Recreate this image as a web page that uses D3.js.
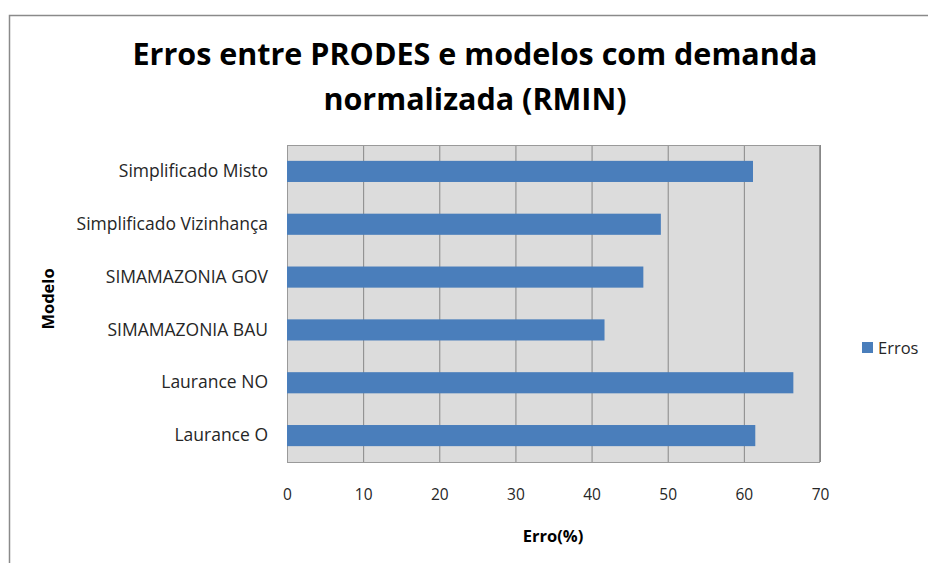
<!DOCTYPE html>
<html>
<head>
<meta charset="utf-8">
<script src="https://cdn.jsdelivr.net/npm/d3@7"></script>
<style>
  body { margin: 0; background: #fff; }
  text { font-family: "Open Sans", "Noto Sans", sans-serif; }
</style>
</head>
<body>
<svg width="928" height="563"></svg>
<script>
// categories listed top to bottom, as in the picture
var modelos = ["Simplificado Misto", "Simplificado Vizinhança", "SIMAMAZONIA GOV",
               "SIMAMAZONIA BAU", "Laurance NO", "Laurance O"];
var erros = [61.2, 49.1, 46.8, 41.7, 66.5, 61.5];
var xTicks = [0, 10, 20, 30, 40, 50, 60, 70];
var titleLines = ["Erros entre PRODES e modelos com demanda", "normalizada (RMIN)"];

var svgWidth = 928, svgHeight = 563;
var plot = { left: 287, right: 820, top: 145, bottom: 462 };

var svg = d3.select("svg")
  .attr("width", svgWidth)
  .attr("height", svgHeight);

// chart frame (right and bottom run off the page)
svg.append("rect")
  .attr("x", 9.5).attr("y", 15.5)
  .attr("width", 940).attr("height", 600)
  .attr("fill", "#fff")
  .attr("stroke", "#8a8a8a")
  .attr("stroke-width", 1.5);

var data = modelos.map(function(m, i) { return { modelo: m, erro: erros[i] }; });

var x = d3.scaleLinear().domain([0, 70]).range([plot.left, plot.right]);
var y = d3.scaleBand().domain(modelos).range([plot.top, plot.bottom]).paddingInner(0.6).paddingOuter(0.3);

// plot area
svg.append("rect")
  .attr("x", plot.left).attr("y", plot.top)
  .attr("width", plot.right - plot.left).attr("height", plot.bottom - plot.top)
  .attr("fill", "#dcdcdc");

// vertical gridlines
svg.append("g")
  .selectAll("line")
  .data(xTicks.slice(1))
  .join("line")
  .attr("x1", function(d) { return x(d) + 0.5; })
  .attr("x2", function(d) { return x(d) + 0.5; })
  .attr("y1", plot.top)
  .attr("y2", plot.bottom)
  .attr("stroke", "#878787")
  .attr("stroke-width", 1);

svg.append("rect")
  .attr("x", plot.left + 0.5).attr("y", plot.top + 0.5)
  .attr("width", plot.right - plot.left - 1).attr("height", plot.bottom - plot.top)
  .attr("fill", "none")
  .attr("stroke", "#9a9a9a");

// bars
svg.append("g")
  .selectAll("rect")
  .data(data)
  .join("rect")
  .attr("x", x(0))
  .attr("y", function(d) { return y(d.modelo); })
  .attr("width", function(d) { return x(d.erro) - x(0); })
  .attr("height", y.bandwidth())
  .attr("fill", "#4a7ebb");

// x axis labels
var xAxis = svg.append("g")
  .attr("transform", "translate(0," + plot.bottom + ")")
  .call(d3.axisBottom(x).tickValues(xTicks).tickSize(0).tickPadding(27));
xAxis.select(".domain").remove();
xAxis.selectAll("text")
  .attr("font-family", "'Open Sans', sans-serif")
  .attr("font-size", 15.5)
  .attr("fill", "#262626");

// y axis labels
var yAxis = svg.append("g")
  .attr("transform", "translate(" + plot.left + ",0)")
  .call(d3.axisLeft(y).tickSize(0).tickPadding(19));
yAxis.select(".domain").remove();
yAxis.selectAll("text")
  .attr("font-family", "'Open Sans', sans-serif")
  .attr("font-size", 17.5)
  .attr("fill", "#262626");

// title
svg.append("g")
  .selectAll("text")
  .data(titleLines)
  .join("text")
  .attr("x", 475)
  .attr("y", function(d, i) { return 65 + i * 45; })
  .attr("text-anchor", "middle")
  .attr("font-size", 30.5)
  .attr("font-weight", "bold")
  .attr("fill", "#000")
  .text(function(d) { return d; });

// axis titles
svg.append("text")
  .attr("x", 553).attr("y", 542)
  .attr("text-anchor", "middle")
  .attr("font-size", 16.5)
  .attr("font-weight", "bold")
  .attr("fill", "#000")
  .text("Erro(%)");

svg.append("text")
  .attr("transform", "translate(54,299) rotate(-90)")
  .attr("text-anchor", "middle")
  .attr("font-size", 16.5)
  .attr("font-weight", "bold")
  .attr("fill", "#000")
  .text("Modelo");

// legend
var legend = svg.append("g").attr("transform", "translate(862,342)");
legend.append("rect")
  .attr("width", 11).attr("height", 11)
  .attr("fill", "#4a7ebb");
legend.append("text")
  .attr("x", 16).attr("y", 11.5)
  .attr("font-size", 16.5)
  .attr("fill", "#262626")
  .text("Erros");
</script>
</body>
</html>
